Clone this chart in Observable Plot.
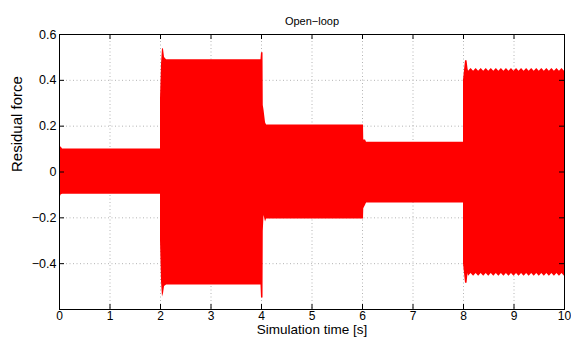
<!DOCTYPE html>
<html>
<head>
<meta charset="utf-8">
<script src="https://cdn.jsdelivr.net/npm/d3@7"></script>
<script src="https://cdn.jsdelivr.net/npm/@observablehq/plot@0.6"></script>
<style>
  html, body { margin: 0; padding: 0; background: #fff; }
</style>
</head>
<body>
<div id="chart"></div>
<script>
// ---- Data (envelope of the residual-force oscillation) ----
const envT = [
  0.0, 0.03, 0.06, 1.99,
  2.0, 2.0, 2.02, 2.04, 2.06, 2.08, 2.12, 3.99,
  4.0, 4.03, 4.035, 4.05, 4.08, 4.1, 6.01,
  6.02, 6.025, 6.06, 6.08, 7.99,
  8.0, 8.0, 8.04, 8.07, 8.09,
  8.10, 8.15, 8.20, 8.25, 8.30, 8.35, 8.40, 8.45, 8.50, 8.55,
  8.60, 8.65, 8.70, 8.75, 8.80, 8.85, 8.90, 8.95, 9.00, 9.05,
  9.10, 9.15, 9.20, 9.25, 9.30, 9.35, 9.40, 9.45, 9.50, 9.55,
  9.60, 9.65, 9.70, 9.75, 9.80, 9.85, 9.90, 9.95, 10.0
];
const envHi = [
  0.10, 0.11, 0.10, 0.10,
  0.10, 0.32, 0.47, 0.54, 0.535, 0.50, 0.49, 0.49,
  0.52, 0.52, 0.29, 0.27, 0.215, 0.205, 0.205,
  0.205, 0.14, 0.14, 0.13, 0.13,
  0.13, 0.40, 0.485, 0.485, 0.45,
  0.44, 0.452, 0.44, 0.452, 0.44, 0.452, 0.44, 0.452, 0.44, 0.452,
  0.44, 0.452, 0.44, 0.452, 0.44, 0.452, 0.44, 0.452, 0.44, 0.452,
  0.44, 0.452, 0.44, 0.452, 0.44, 0.452, 0.44, 0.452, 0.44, 0.452,
  0.44, 0.452, 0.44, 0.452, 0.44, 0.452, 0.44, 0.452, 0.44
];
const envLo = [
  -0.12, -0.10, -0.097, -0.097,
  -0.097, -0.30, -0.48, -0.545, -0.53, -0.50, -0.493, -0.493,
  -0.55, -0.55, -0.26, -0.19, -0.218, -0.205, -0.205,
  -0.205, -0.16, -0.145, -0.135, -0.135,
  -0.135, -0.40, -0.485, -0.485, -0.443,
  -0.455, -0.443, -0.455, -0.443, -0.455, -0.443, -0.455, -0.443, -0.455, -0.443,
  -0.455, -0.443, -0.455, -0.443, -0.455, -0.443, -0.455, -0.443, -0.455, -0.443,
  -0.455, -0.443, -0.455, -0.443, -0.455, -0.443, -0.455, -0.443, -0.455, -0.443,
  -0.455, -0.443, -0.455, -0.443, -0.455, -0.443, -0.455, -0.443, -0.455
];

const xTicks = [0, 1, 2, 3, 4, 5, 6, 7, 8, 9, 10];
const yTicks = [-0.6, -0.4, -0.2, 0, 0.2, 0.4, 0.6];
const yTickLabels = ["", "\u22120.4", "\u22120.2", "0", "0.2", "0.4", "0.6"];
const xGrid = [1, 2, 3, 4, 5, 6, 7, 8, 9];
const yGrid = [-0.4, -0.2, 0, 0.2, 0.4];

const titleText = "Open\u2212loop";
const xLabel = "Simulation time [s]";
const yLabel = "Residual force";

// ---- Build table ----
const env = envT.map((t, i) => ({t, hi: envHi[i], lo: envLo[i]}));

const W = 571, H = 341;
const mL = 59, mR = 7, mT = 34, mB = 32;
const plotW = W - mL - mR, plotH = H - mT - mB;
const tick = 5;

const chart = Plot.plot({
  width: W, height: H,
  marginLeft: mL, marginRight: mR, marginTop: mT, marginBottom: mB,
  style: {fontFamily: "'Liberation Sans', Arial, Helvetica, sans-serif", fontSize: "12px", color: "#000", background: "#fff", overflow: "visible"},
  x: {domain: [0, 10]},
  y: {domain: [-0.6, 0.6]},
  marks: [
    Plot.ruleX(xGrid, {x: d => d, stroke: "#b4b4b4", strokeDasharray: "1,2.5"}),
    Plot.ruleY(yGrid, {y: d => d, stroke: "#b4b4b4", strokeDasharray: "1,2.5"}),
    Plot.areaY(env, {x: "t", y1: "lo", y2: "hi", fill: "#ff0000", curve: "linear"}),
    // inward ticks (MATLAB style) on all four sides
    Plot.ruleX(xTicks, {x: d => d, insetTop: plotH - tick, stroke: "#000"}),
    Plot.ruleX(xTicks, {x: d => d, insetBottom: plotH - tick, stroke: "#000"}),
    Plot.ruleY(yTicks, {y: d => d, insetRight: plotW - tick, stroke: "#000"}),
    Plot.ruleY(yTicks, {y: d => d, insetLeft: plotW - tick, stroke: "#000"}),
    Plot.frame({stroke: "#000"}),
    Plot.axisX(xTicks, {tickSize: 0, tickPadding: 2, tickFormat: d => String(d), label: null}),
    Plot.axisY(yTicks, {tickSize: 0, tickPadding: 3, fontSize: 12.5, tickFormat: d => yTickLabels[yTicks.indexOf(d)], label: null}),
    Plot.text([titleText], {frameAnchor: "top", dy: -17, fontSize: 11}),
    Plot.text([xLabel], {frameAnchor: "bottom", dy: 24.5, fontSize: 13.5}),
    Plot.text([yLabel], {frameAnchor: "left", dx: -42, rotate: -90, fontSize: 15})
  ]
});
document.getElementById("chart").appendChild(chart);
</script>
</body>
</html>
